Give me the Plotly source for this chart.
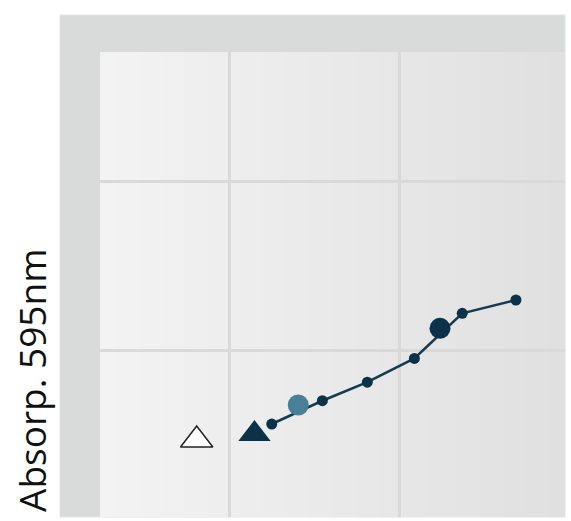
import plotly.graph_objects as go

# Data
line_x = [12.50, 15.46, 18.09, 20.84, 23.64, 26.78]
line_y = [0.1124, 0.1400, 0.1620, 0.1900, 0.2434, 0.2592]
light_x = [14.05]
light_y = [0.1349]
dark_x = [22.34]
dark_y = [0.2257]
open_tri_x = [8.11]
open_tri_y = [0.0935]
fill_tri_x = [11.49]
fill_tri_y = [0.1006]
x_grid = [10, 20]
y_grid = [0.2, 0.4]
y_title = "Absorp. 595nm"

NAVY = "#0b3249"
LIGHT = "#4a7f98"

fig = go.Figure()
fig.add_trace(go.Scatter(x=line_x, y=line_y, mode="lines+markers",
                         line=dict(color="#163a50", width=2.6),
                         marker=dict(size=11, color=NAVY), showlegend=False))
fig.add_trace(go.Scatter(x=light_x, y=light_y, mode="markers",
                         marker=dict(size=21, color=LIGHT), showlegend=False))
fig.add_trace(go.Scatter(x=dark_x, y=dark_y, mode="markers",
                         marker=dict(size=21, color=NAVY), showlegend=False))
fig.add_trace(go.Scatter(x=open_tri_x, y=open_tri_y, mode="markers",
                         marker=dict(symbol="triangle-up", size=28, color="white",
                                     line=dict(color="#222222", width=1.5)),
                         showlegend=False))
fig.add_trace(go.Scatter(x=fill_tri_x, y=fill_tri_y, mode="markers",
                         marker=dict(symbol="triangle-up", size=28, color=NAVY,
                                     line=dict(width=0)),
                         showlegend=False))

shapes = []
# outer grey frame
shapes.append(dict(type="rect", xref="paper", yref="paper", x0=-40/465, x1=1.0,
                   y0=0, y1=1 + 37/465, fillcolor="#d9dbdb",
                   line=dict(color="#e2e4e4", width=1), layer="below"))
# plot area gradient
n = 60
c0 = (0xf3, 0xf3, 0xf3)
c1 = (0xe0, 0xe0, 0xe0)
for i in range(n):
    t = i / (n - 1)
    c = tuple(round(a + (b - a) * t) for a, b in zip(c0, c1))
    shapes.append(dict(type="rect", xref="x domain", yref="y domain",
                       x0=i / n, x1=min(1.0, (i + 1) / n + 0.002), y0=0, y1=1,
                       fillcolor="rgb(%d,%d,%d)" % c, line=dict(width=0),
                       layer="below"))

fig.update_layout(
    width=571, height=521,
    margin=dict(l=100, r=6, t=52, b=4),
    paper_bgcolor="white", plot_bgcolor="rgba(0,0,0,0)",
    shapes=shapes,
    xaxis=dict(range=[2.456, 29.65], tickvals=x_grid, showticklabels=False,
               showgrid=True, gridcolor="#d9d9d9", gridwidth=3, zeroline=False,
               showline=False, ticks=""),
    yaxis=dict(range=[0.0024, 0.5527], tickvals=y_grid, showticklabels=False,
               showgrid=True, gridcolor="#d9d9d9", gridwidth=3, zeroline=False,
               showline=False, ticks=""),
    annotations=[dict(text=y_title, xref="paper", yref="paper",
                      x=-69/465, y=(517 - 381) / 465, xanchor="center",
                      yanchor="middle", textangle=-90, showarrow=False,
                      font=dict(family="Open Sans", size=37, color="#111111"))],
)

fig.write_html("out.html")
